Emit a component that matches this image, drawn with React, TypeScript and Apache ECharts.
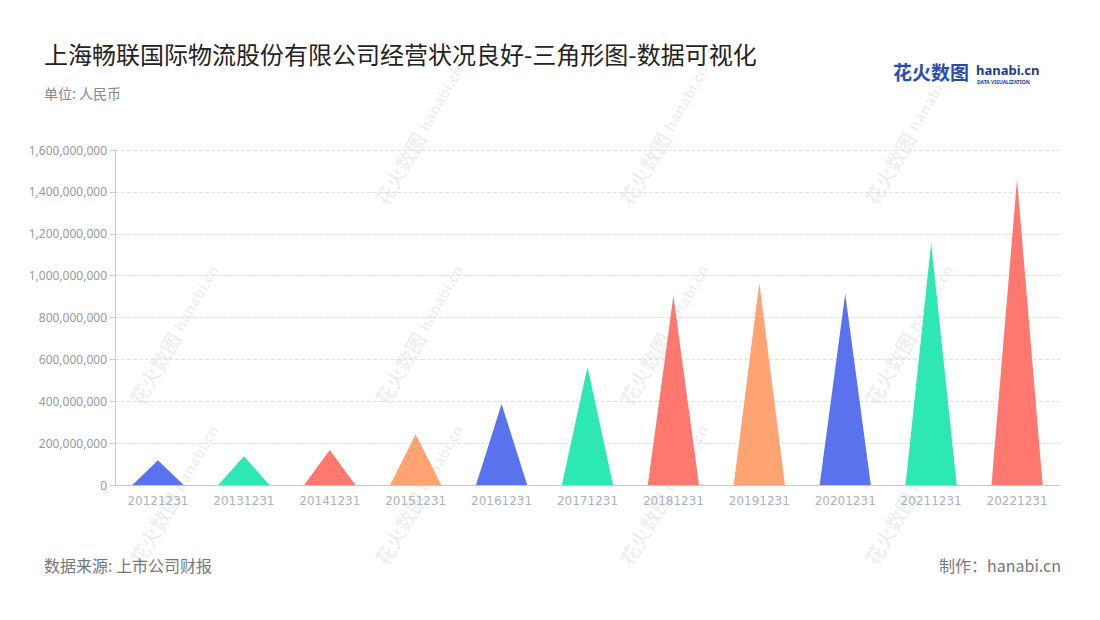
import React, { useEffect, useRef } from "react";
import * as echarts from "echarts";

const categories = ["20121231", "20131231", "20141231", "20151231", "20161231", "20171231", "20181231", "20191231", "20201231", "20211231", "20221231"];
const values = [119000000, 138000000, 167000000, 243000000, 387000000, 564000000, 903000000, 965000000, 912000000, 1156000000, 1461000000];
const palette = ["#5B72EE", "#2DE8B2", "#FF7870", "#FFA372"];
const title = "上海畅联国际物流股份有限公司经营状况良好-三角形图-数据可视化";
const unitText = "单位: 人民币";
const sourceText = "数据来源: 上市公司财报";
const makerText = "制作：hanabi.cn";

const wmPositions: [number, number][] = [
  [405, 160], [650, 160], [895, 160],
  [160, 360], [405, 360], [650, 360], [895, 360],
  [160, 520], [405, 520], [650, 520], [895, 520],
];

function watermark(x: number, y: number) {
  return {
    type: "group",
    x,
    y,
    rotation: Math.PI / 3,
    silent: true,
    children: [
      { type: "text", x: -50, y: 0, style: { text: "花火数图", fill: "rgba(0,0,0,0.07)", font: "bold 20px 'Noto Sans CJK SC'", textVerticalAlign: "middle" } },
      { type: "text", x: 35, y: 0, style: { text: "hanabi.cn", fill: "rgba(0,0,0,0.07)", font: "bold 15px 'Noto Sans'", textVerticalAlign: "middle" } },
    ],
  };
}

export default function App() {
  const ref = useRef<HTMLDivElement>(null);
  useEffect(() => {
    if (!ref.current) return;
    const chart = echarts.init(ref.current, null, { renderer: "svg" });
    chart.setOption({
      animation: false,
      backgroundColor: "#ffffff",
      textStyle: { fontFamily: "'Noto Sans CJK SC', 'Noto Sans', sans-serif" },
      title: [
        { text: title, left: 39, top: 36, textStyle: { fontSize: 24, fontWeight: "normal", color: "#222" } },
        { text: unitText, left: 39, top: 81, textStyle: { fontSize: 14, fontWeight: "normal", color: "#888" } },
      ],
      graphic: [
        ...wmPositions.map(([x, y]) => watermark(x, y)),
        { type: "text", left: 44, top: 557, style: { text: sourceText, fill: "#777", font: "16px 'Noto Sans CJK SC'" } },
        { type: "text", right: 39, top: 557, style: { text: makerText, fill: "#777", font: "16px 'Noto Sans CJK SC'" } },
        { type: "text", left: 893, top: 62, style: { text: "花火数图", fill: "#2A4BB0", font: "bold 19px 'Noto Sans CJK SC'" } },
        { type: "text", left: 976, top: 63, style: { text: "hanabi.cn", fill: "#1E3C8C", font: "bold 13px 'Noto Sans'" } },
        { type: "text", left: 977, top: 79, style: { text: "DATA VISUALIZATION", fill: "#1E3C8C", font: "bold 5px 'Noto Sans'" } },
      ],
      grid: { left: 115, right: 40, top: 150, bottom: 135, containLabel: false },
      xAxis: {
        type: "category",
        data: categories,
        axisLine: { lineStyle: { color: "#c8c8c8" } },
        axisTick: { alignWithLabel: true, lineStyle: { color: "#c8c8c8" } },
        axisLabel: { color: "#aab0c0", fontSize: 12, margin: 10, fontFamily: "'DejaVu Sans'" },
      },
      yAxis: {
        type: "value",
        min: 0,
        max: 1600000000,
        interval: 200000000,
        axisLine: { show: true, lineStyle: { color: "#c8c8c8" } },
        axisTick: { show: true, lineStyle: { color: "#c8c8c8" } },
        axisLabel: {
          color: "#999",
          fontSize: 12,
          fontFamily: "'Noto Sans'",
          formatter: (v: number) => v.toLocaleString("en-US"),
        },
        splitLine: { lineStyle: { color: "#e0e0e0", type: "dashed" } },
      },
      series: [
        {
          type: "pictorialBar",
          symbol: "triangle",
          symbolSize: [51, "100%"],
          data: values.map((v, i) => ({ value: v, itemStyle: { color: palette[i % palette.length] } })),
        },
      ],
    });
    return () => chart.dispose();
  }, []);
  return <div ref={ref} style={{ position: "fixed", left: 0, top: 0, width: 1100, height: 620 }} />;
}
